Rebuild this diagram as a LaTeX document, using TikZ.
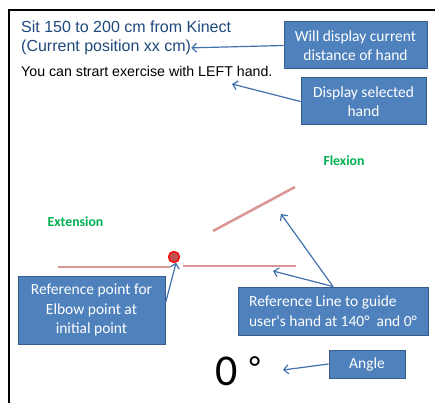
\documentclass[tikz,border=0pt]{standalone}
\usepackage{fontspec}
\setmainfont{Liberation Sans}
\newfontfamily\calibri{Carlito}
\usetikzlibrary{arrows.meta,calc}
\definecolor{boxfill}{HTML}{4F81BD}
\definecolor{boxline}{HTML}{385D8A}
\definecolor{arrowc}{HTML}{4172AE}
\definecolor{refline}{HTML}{D99694}
\definecolor{darkblue}{HTML}{1F497D}
\definecolor{labelgreen}{HTML}{00B050}
\definecolor{dotfill}{HTML}{C0504D}
\begin{document}
\begin{tikzpicture}[x=1pt,y=-1pt,
  callout/.style={draw=boxline, line width=1pt, fill=boxfill, text=white,
    font=\calibri\fontsize{15.5}{19.5}\selectfont, align=center, inner sep=0pt},
  pointer/.style={draw=arrowc, line width=1.2pt, -{Straight Barb[length=4.5pt,width=9pt]}},
  guide/.style={draw=refline, line width=2.5pt},
  phase/.style={text=labelgreen, font=\calibri\bfseries\fontsize{13.8}{16}\selectfont, inner sep=0pt},
  plain/.style={anchor=base west, inner sep=0pt}]
\useasboundingbox (0,0) rectangle (435,403);
\draw[line width=1.3pt] (9,403) -- (9,10) -- (435,10);
% texts
\node[plain, text=darkblue, font=\fontsize{16}{19}\selectfont] (sit) at (21,33) {Sit 150 to 200 cm from Kinect};
\node[plain, text=darkblue, font=\fontsize{16}{19}\selectfont] (pos) at (21,52) {(Current position xx cm)};
\node[plain, font=\fontsize{14.2}{17}\selectfont] (start) at (21,77) {You can strart exercise with LEFT hand.};
% callouts
\node[callout, minimum width=143pt, minimum height=47pt] (b1) at (355.5,45.5) {Will display current\\distance of hand};
\node[callout, minimum width=125pt, minimum height=47pt] (b2) at (363.5,101.5) {Display selected\\hand};
\node[callout, minimum width=147pt, minimum height=68pt] (b3) at (91.5,310) {Reference point for\\Elbow point at\\initial point};
\node[callout, align=left, minimum width=190pt, minimum height=48pt] (b4) at (333,311) {Reference Line to guide\\user's hand at 140°\ \ and 0°};
\node[callout, minimum width=76pt, minimum height=28pt] (b5) at (367,364) {Angle};
% reference lines
\coordinate (f1) at (213,231); \coordinate (f2) at (295,187);
\coordinate (e1) at (58,267); \coordinate (e2) at (170,267);
\coordinate (r1) at (183,266); \coordinate (r2) at (296,266);
\draw[guide] (f1) -- (f2);
\draw[guide] (e1) -- (e2);
\draw[guide] (r1) -- (r2);
\node[circle, draw=red, fill=dotfill, line width=1.3pt, minimum size=11pt, inner sep=0pt] (dot) at (174,257) {};
% labels
\node[phase] (flex) at (344,161) {Flexion};
\node[phase] (ext) at (75.5,222) {Extension};
\node[plain, font=\calibri\fontsize{44}{44}\selectfont] (zero) at (215,385) {0 \hspace{2pt}{\fontsize{32}{32}\selectfont\raisebox{7pt}{°}}};
% arrows
\coordinate (tipA) at (232,84);
\coordinate (tipF) at (281,214);
\coordinate (tipH) at (273,271);
\coordinate (tipZ) at (283,370);
\draw[pointer] (b1.west) -- (pos.east);
\draw[pointer] (b2.west) -- (tipA);
\draw[pointer] ($(b3.east)+(0,-7)$) -- (dot.-70);
\draw[pointer] (b4.north) -- (tipF);
\draw[pointer] (b4.north) -- (tipH);
\draw[pointer] (b5.west) -- (tipZ);
\end{tikzpicture}
\end{document}
